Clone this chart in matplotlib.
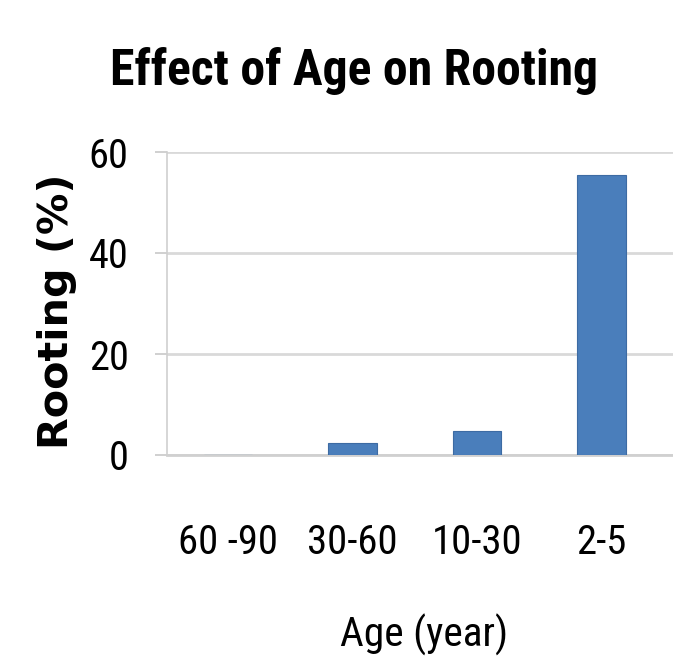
import matplotlib
matplotlib.use("Agg")
import matplotlib.pyplot as plt
from matplotlib import font_manager

# Rooting success by tree age class
age_classes = ["60 -90", "30-60", "10-30", "2-5"]
rooting_pct = [0.0, 2.3, 4.8, 55.4]
y_ticks = [0, 20, 40, 60]

W, H = 673, 671


def pick_family(candidates):
    names = {f.name for f in font_manager.fontManager.ttflist}
    for name in candidates:
        if name in names:
            return name
    return "DejaVu Sans"


NARROW = pick_family(["Liberation Sans Narrow", "DejaVu Sans Condensed",
                      "Roboto Condensed", "Open Sans Condensed", "Roboto"])
WIDE = pick_family(["DejaVu Sans", "Open Sans"])

fig = plt.figure(figsize=(W / 100, H / 100), dpi=100)
fig.patch.set_facecolor("white")
ax = fig.add_axes([167 / W, 1 - 455 / H, (W - 167) / W, (455 - 152) / H])

x = list(range(len(age_classes)))
ax.bar(x, rooting_pct, width=0.39, color="#4a7ebb", edgecolor="#3d6ba3",
       linewidth=0.8, zorder=3)

ax.set_xlim(-0.49, 3.574)
ax.set_ylim(0, 60)
ax.set_yticks(y_ticks)
ylabels = ax.set_yticklabels([str(v) for v in y_ticks], family=NARROW,
                             fontsize=30)
ax.set_xticks(x)
xlabels = ax.set_xticklabels(age_classes, family=NARROW, fontsize=30)

ax.grid(axis="y", color="#d9d9d9", linewidth=2, zorder=0)
ax.tick_params(axis="y", length=8.6, width=1.2, color="#c8c8c8", pad=19)
ax.tick_params(axis="x", length=0, pad=49)

for side in ("top", "right"):
    ax.spines[side].set_visible(False)
ax.spines["left"].set_color("#cfcfcf")
ax.spines["left"].set_linewidth(1.2)
ax.spines["bottom"].set_color("#d0d0d0")
ax.spines["bottom"].set_linewidth(2)

title = fig.text(354 / W, 1 - 85 / H, "Effect of Age on Rooting",
                 family=NARROW, fontsize=30, fontweight="bold",
                 ha="center", va="baseline")
ylab = fig.text(57 / W, 1 - 311 / H, "Rooting (%)", family=WIDE,
                fontsize=30, fontweight="bold", rotation=90,
                ha="center", va="center")
xlab = fig.text(424 / W, 1 - 647 / H, "Age (year)", family=NARROW,
                fontsize=30, ha="center", va="baseline")


def fit(texts, target_px, along="width"):
    """Scale font size so the widest text spans target_px."""
    renderer = fig.canvas.get_renderer()
    ext = [t.get_window_extent(renderer) for t in texts]
    size = max(getattr(e, along) for e in ext)
    for t in texts:
        t.set_fontsize(t.get_fontsize() * target_px / size)


fig.canvas.draw()
fit([title], 488)
fit([xlab], 168)
fit([ylab], 275, along="height")
fit(list(xlabels), 100)
fit(list(ylabels), 40)

fig.savefig("out.png", dpi=100, facecolor="white")
